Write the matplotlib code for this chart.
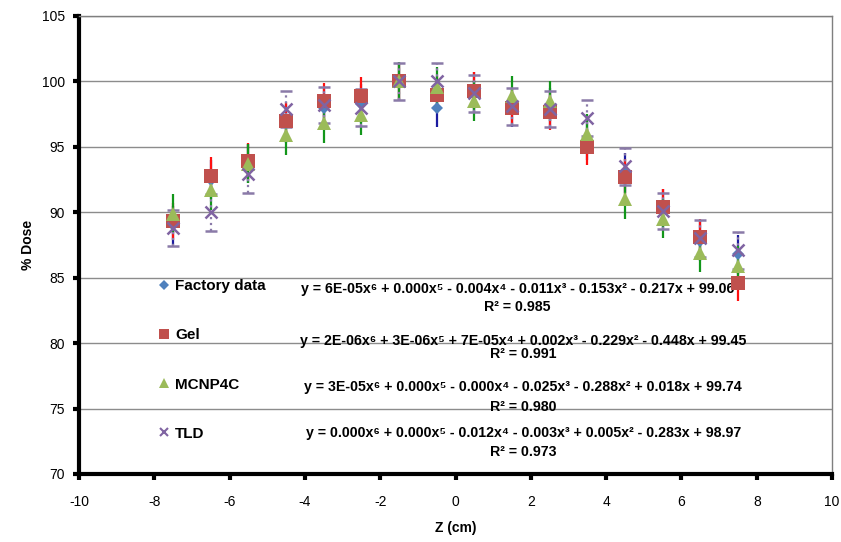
import numpy as np
import matplotlib.pyplot as plt

plt.rcParams["font.family"] = ["Liberation Sans", "DejaVu Sans"]
plt.rcParams["axes.unicode_minus"] = False

# depth positions (cm) and relative dose (%)
z = [-7.5, -6.5, -5.5, -4.5, -3.5, -2.5, -1.5, -0.5, 0.5, 1.5, 2.5, 3.5, 4.5, 5.5, 6.5, 7.5]

factory = [89.0, 92.5, 93.7, 96.8, 98.0, 98.3, 100.0, 98.0, 99.2, 98.0, 98.0, 95.5, 93.0, 90.3, 87.8, 86.8]
gel = [89.3, 92.8, 93.9, 97.0, 98.5, 98.9, 100.0, 99.0, 99.3, 98.0, 97.7, 95.0, 92.7, 90.4, 88.1, 84.6]
mcnp = [89.9, 91.7, 93.7, 95.9, 96.8, 97.4, 100.0, 99.6, 98.5, 98.9, 98.5, 96.0, 91.0, 89.5, 86.9, 85.9]
tld = [88.8, 90.0, 92.9, 97.9, 98.2, 98.0, 100.0, 100.0, 99.1, 98.1, 97.9, 97.2, 93.5, 90.1, 88.0, 87.1]

factory_err = [1.5] * 16
gel_err = [1.4] * 16
mcnp_err = [1.5] * 16
tld_err = [1.4] * 16

labels = ["Factory data", "Gel", "MCNP4C", "TLD"]
fits = [
    ("y = 6E-05x⁶ + 0.000x⁵ - 0.004x⁴ - 0.011x³ - 0.153x² - 0.217x + 99.06", "R² = 0.985"),
    ("y = 2E-06x⁶ + 3E-06x⁵ + 7E-05x⁴ + 0.002x³ - 0.229x² - 0.448x + 99.45", "R² = 0.991"),
    ("y = 3E-05x⁶ + 0.000x⁵ - 0.000x⁴ - 0.025x³ - 0.288x² + 0.018x + 99.74", "R² = 0.980"),
    ("y = 0.000x⁶ + 0.000x⁵ - 0.012x⁴ - 0.003x³ + 0.005x² - 0.283x + 98.97", "R² = 0.973"),
]
# label positions (data units) for each fit equation and its R^2
fit_x = [1.65, 1.8, 1.8, 1.8]
fit_y = [84.1, 80.15, 76.65, 73.1]
r2_y = [82.75, 79.2, 75.1, 71.7]

fig = plt.figure(figsize=(8.41, 5.42), dpi=100)
ax = fig.add_axes([0.094, 0.1255, 0.8954, 0.845])

series = [
    (factory, factory_err, "D", "#4F81BD", "#1B1BA0", "-", 6),
    (gel, gel_err, "s", "#C0504D", "#FF1010", "-", 9.5),
    (mcnp, mcnp_err, "^", "#9BBB59", "#12961A", "-", 9.5),
    (tld, tld_err, "x", "#8064A2", "#8A7AA8", ":", 8),
]
for (vals, err, mk, col, ecol, ls, ms), lab in zip(series, labels):
    mew = 1.8 if mk == "x" else 0
    eb = ax.errorbar(z, vals, yerr=err, fmt=mk, color=col, ms=ms, mew=mew,
                     ecolor=ecol, elinewidth=1.6, capsize=4, capthick=2.2,
                     label=lab, zorder=3)
    eb[2][0].set_linestyle(ls)

ax.set_xlim(-10, 10)
ax.set_ylim(70, 105)
ax.set_xticks(range(-10, 11, 2))
ax.set_yticks(range(70, 106, 5))
ax.yaxis.grid(True, color="#8C8C8C", linewidth=1)
ax.set_axisbelow(True)

for s in ["left", "bottom"]:
    ax.spines[s].set_linewidth(3)
    ax.spines[s].set_color("black")
for s in ["top", "right"]:
    ax.spines[s].set_linewidth(1)
    ax.spines[s].set_color("#7F7F7F")
ax.tick_params(axis="both", direction="out", length=4, width=3, labelsize=10, colors="black")
ax.tick_params(axis="x", pad=11)
ax.tick_params(axis="y", pad=6)

ax.set_xlabel("Z (cm)", fontsize=10, fontweight="bold", labelpad=9)
ax.set_ylabel("% Dose", fontsize=10, fontweight="bold", labelpad=5)

for (eq, r2), xx, yy, ry in zip(fits, fit_x, fit_y, r2_y):
    ax.text(xx, yy, eq, ha="center", va="center", fontsize=10.2, fontweight="bold")
    ax.text(xx, ry, r2, ha="center", va="center", fontsize=10.2, fontweight="bold")

# legend with plain markers, no error bars
handles = [plt.Line2D([], [], ls="none", marker=m, color=c, ms=ms * 0.8, mew=(1.5 if m == "x" else 0))
           for (_, _, m, c, _, _, ms) in series]
ax.legend(handles, labels, loc="upper left", bbox_to_anchor=(0.085, 0.455), frameon=False,
          prop={"weight": "bold", "size": 11}, labelspacing=2.3, handletextpad=0.2,
          handlelength=1.0)

fig.savefig("out.png", dpi=100)
